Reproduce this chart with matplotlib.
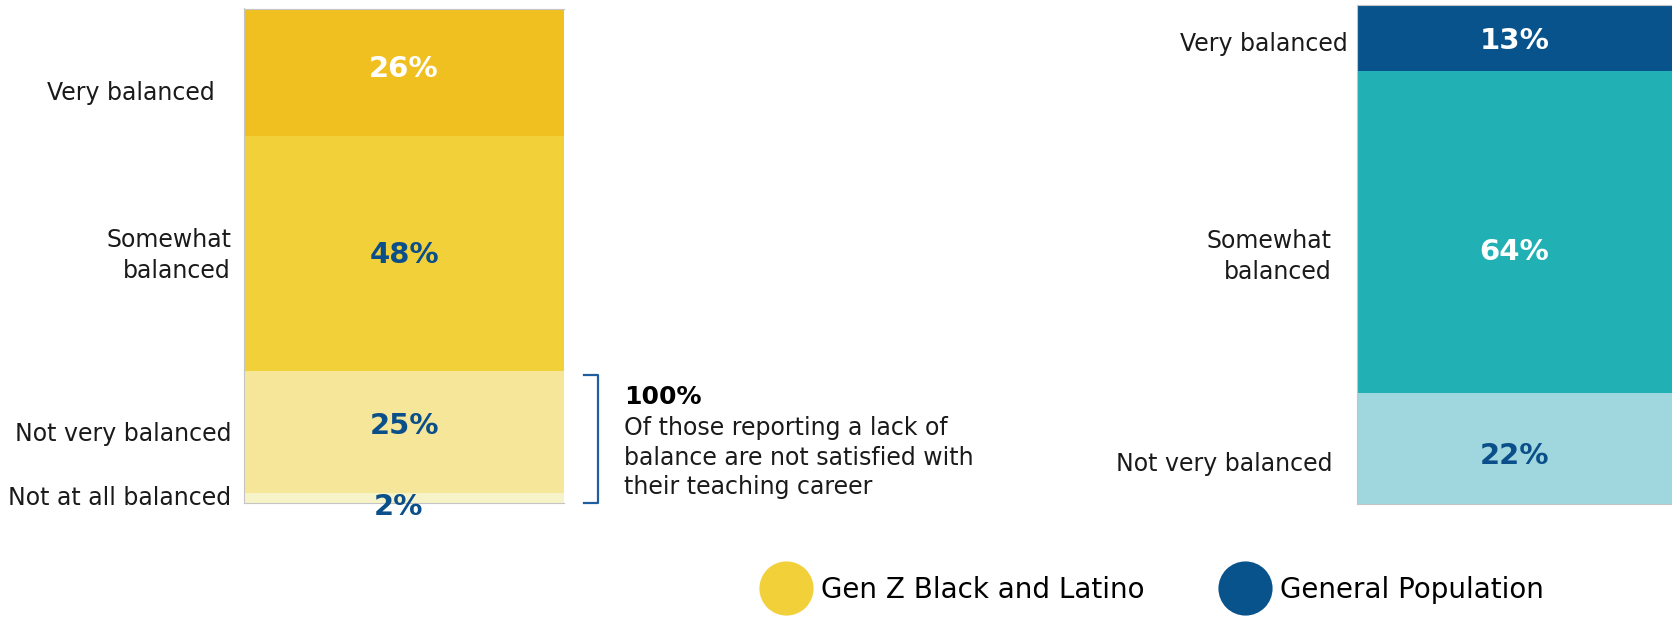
import matplotlib
matplotlib.use("Agg")
import matplotlib.pyplot as plt
from matplotlib.lines import Line2D
import matplotlib.transforms as mtransforms

# survey answers, top segment first
genz_labels = ["Very balanced", "Somewhat\nbalanced", "Not very balanced", "Not at all balanced"]
genz_values = [26, 48, 25, 2]
genz_colors = ["#F0C020", "#F2D03A", "#F5E69A", "#F7F3C8"]
genz_text = ["white", "#0B4F8A", "#0B4F8A", "#0B4F8A"]

gen_labels = ["Very balanced", "Somewhat\nbalanced", "Not very balanced"]
gen_values = [13, 64, 22]
gen_colors = ["#08538C", "#21B1B5", "#A0D6DE"]
gen_text = ["white", "white", "#0B4F8A"]

legend_names = ["Gen Z Black and Latino", "General Population"]
legend_colors = ["#F2D03A", "#08538C"]

note_head = "100%"
note_body = "Of those reporting a lack of\nbalance are not satisfied with\ntheir teaching career"

# nudges in pixels (x, y) for labels that sit off the segment centre
genz_pct_nudge = [(0, 3), (0, -2), (0, 6), (-6, None)]
genz_cat_nudge = [(-29, -21), (-13, -2), (-13, -2), (-13, 0)]
gen_pct_nudge = [(0, -3), (0, -20), (0, -7)]
gen_cat_nudge = [(-9, -6), (-25, -25), (-25, -15)]

W, H = 1672, 620
fig = plt.figure(figsize=(W / 100, H / 100), dpi=100)


def stacked(rect, values, colors, txtcolors, labels, pct_nudge, cat_nudge):
    ax = fig.add_axes(rect)
    total = sum(values)
    top = total
    for v, c, tc, lab, pn, cn in zip(values, colors, txtcolors, labels, pct_nudge, cat_nudge):
        bottom = top - v
        ax.bar(0, v, bottom=bottom, width=1, color=c, linewidth=0)
        mid = bottom + v / 2
        if pn[1] is None:
            # too thin, label goes under the bar
            ax.annotate(f"{v}%", xy=(0, bottom), xytext=(pn[0], -4),
                        textcoords="offset pixels", ha="center", va="center",
                        fontsize=21, fontweight="bold", color=tc,
                        annotation_clip=False)
        else:
            ax.annotate(f"{v}%", xy=(0, mid), xytext=pn,
                        textcoords="offset pixels", ha="center", va="center",
                        fontsize=21, fontweight="bold", color=tc)
        ax.annotate(lab, xy=(0, mid), xycoords=("axes fraction", "data"),
                    xytext=cn, textcoords="offset pixels",
                    ha="right", va="center", multialignment="right",
                    fontsize=17, color="#1a1a1a", linespacing=1.35,
                    annotation_clip=False)
        top = bottom
    ax.set_xlim(-0.5, 0.5)
    ax.set_ylim(0, total)
    ax.set_xticks([])
    ax.set_yticks([])
    ax.spines["right"].set_visible(False)
    for s in ["left", "top", "bottom"]:
        ax.spines[s].set_color("#c4c4c4")
        ax.spines[s].set_linewidth(0.8)
    return ax


axl = stacked([244 / W, 1 - 503 / H, 320 / W, 494.5 / H],
              genz_values, genz_colors, genz_text, genz_labels,
              genz_pct_nudge, genz_cat_nudge)
axr = stacked([1357 / W, 1 - 504 / H, 315 / W, 499 / H],
              gen_values, gen_colors, gen_text, gen_labels,
              gen_pct_nudge, gen_cat_nudge)

# bracket around the two "lack of balance" segments
lack = genz_values[2] + genz_values[3]
trans = mtransforms.blended_transform_factory(axl.transAxes, axl.transData)
axl.add_line(Line2D([1.0625, 1.106, 1.106, 1.0625], [lack - 0.8, lack - 0.8, 0, 0],
                    transform=trans, color="#1F5FA0", linewidth=1.6,
                    clip_on=False))

fig.text(624 / W, 1 - 397 / H, note_head, fontsize=18, fontweight="bold",
         color="black", va="center", ha="left")
fig.text(624 / W, 1 - 416 / H, note_body, fontsize=17, color="#1a1a1a",
         va="top", ha="left", linespacing=1.3)

handles = [Line2D([], [], linestyle="none", marker="o", markersize=39,
                  markerfacecolor=c, markeredgewidth=0) for c in legend_colors]
fig.legend(handles, legend_names, loc="center left",
           bbox_to_anchor=(767 / W, 1 - 590 / H), ncol=2, frameon=False,
           fontsize=20, handlelength=1.4, handletextpad=0.56,
           columnspacing=2.9, borderaxespad=0, borderpad=0)

fig.savefig("out.png", dpi=100)
